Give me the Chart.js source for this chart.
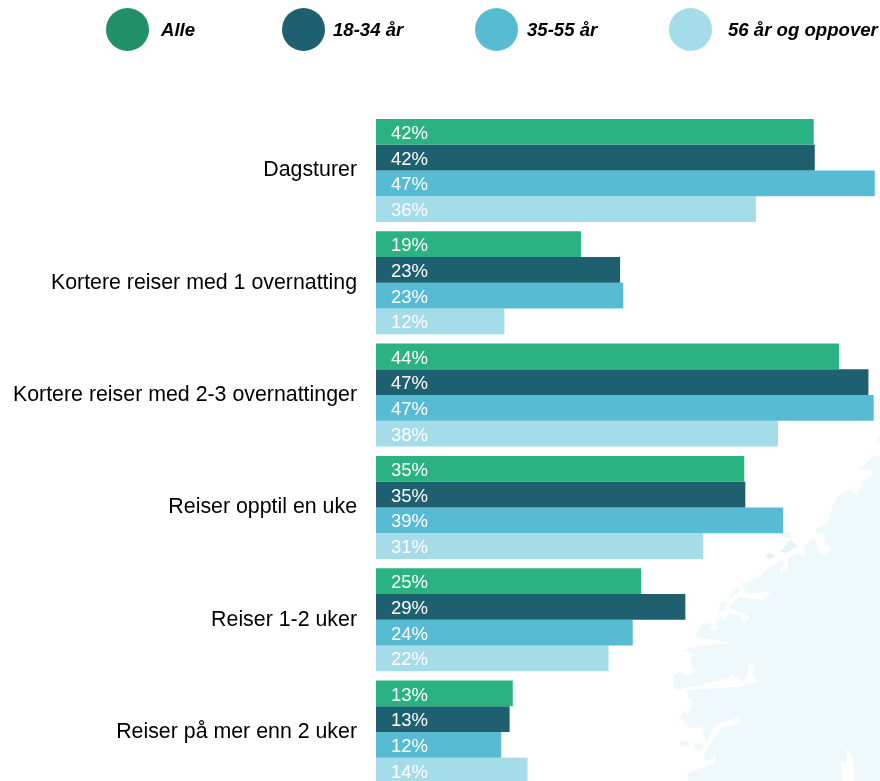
<!DOCTYPE html>
<html lang="no">
<head>
<meta charset="utf-8">
<title>Reiser</title>
<script src="https://cdn.jsdelivr.net/npm/chart.js@4/dist/chart.umd.js"></script>
<style>
    html, body { margin: 0; width: 880px; height: 781px; overflow: hidden; background: #fff; }
    #map { position: absolute; left: 640px; top: 420px; width: 240px; height: 361px; }
    #wrap { position: absolute; left: 0; top: 0; width: 880px; height: 781px; overflow: hidden; }
    #chart { display: block; }
    .legend-dot { position: absolute; top: 8px; width: 43px; height: 43px; border-radius: 50%; }
    .legend-text { position: absolute; top: 19px; font: italic bold 18.6px "Liberation Sans", Arial, sans-serif; color: #000; white-space: nowrap; }
</style>
</head>
<body>
<!-- Background map, viewBox is 3x the page pixels -->
<svg id="map" viewBox="0 0 720 1083">
    <path fill="#eff8fa" d="M720,105 L695,108 680,130 652,150 700,148 695,165 665,185 670,205 655,210 655,230 622,207 600,222 575,265 562,315 528,325 530,338 555,340 553,375 575,380 560,405 540,400 530,365 520,355 490,380 497,405 482,412 475,395 445,415 445,445 420,460 432,420 390,440 355,475 305,490 320,520 395,515 365,540 300,530 265,560 300,575 330,590 310,612 298,585 265,580 255,605 245,590 228,605 232,632 208,632 218,608 185,615 167,650 190,655 285,670 190,675 130,690 165,705 152,712 155,745 170,755 135,768 120,755 100,765 100,800 110,810 265,775 275,760 310,785 325,765 322,728 348,730 338,760 355,785 300,800 140,810 145,835 158,845 145,885 130,872 120,895 150,925 185,920 190,945 200,965 225,915 300,890 300,910 245,925 225,950 190,1010 200,1025 225,1010 225,1030 140,1060 145,1083 610,1083 603,1025 620,1030 622,990 640,1010 640,1083 720,1083 Z"/>
    <path fill="#e6f4f8" d="M420,395 L450,358 475,378 435,400 Z"/>
    <path fill="#eff8fa" d="M265,530 L295,500 300,510 275,532 Z M235,572 L240,550 258,540 255,575 Z M720,45 L712,58 714,70 720,68 Z"/>
    <ellipse cx="440" cy="345" rx="15" ry="8" fill="#eff8fa"/>
    <ellipse cx="390" cy="407" rx="13" ry="8" fill="#e6f4f8"/>
    <ellipse cx="134" cy="971" rx="15" ry="10" fill="#eff8fa"/>
    <ellipse cx="175" cy="979" rx="15" ry="10" fill="#eff8fa"/>
</svg>
<!-- Canvas is taller than the window: the last group runs past the bottom, as in the original -->
<div id="wrap"><canvas id="chart" width="880" height="820"></canvas></div>
<div id="legend"></div>

<script>
// Categories and series
const categories = [
    'Dagsturer',
    'Kortere reiser med 1 overnatting',
    'Kortere reiser med 2-3 overnattinger',
    'Reiser opptil en uke',
    'Reiser 1-2 uker',
    'Reiser på mer enn 2 uker'
];
const seriesNames = ['Alle', '18-34 år', '35-55 år', '56 år og oppover'];
const alle = [41.6, 19.48, 44.0, 35.0, 25.2, 13.0];
const young = [41.7, 23.2, 46.8, 35.1, 29.4, 12.7];
const middle = [47.4, 23.5, 47.3, 38.7, 24.4, 11.9];
const older = [36.1, 12.2, 38.2, 31.1, 22.1, 14.4];
// Labels are the printed values, the bars are a little more precise
const alleLabels = ['42%', '19%', '44%', '35%', '25%', '13%'];
const youngLabels = ['42%', '23%', '47%', '35%', '29%', '13%'];
const middleLabels = ['47%', '23%', '47%', '39%', '24%', '12%'];
const olderLabels = ['36%', '12%', '38%', '31%', '22%', '14%'];

const barColors = ['#2ab381', '#1e5f70', '#57bbd4', '#a4dcea'];
const legendColors = ['#229067', '#1e5f70', '#57bbd4', '#a4dcea'];
const legendDotX = [106, 282, 475, 669];
const legendTextX = [161, 333, 527, 728];

// Build the legend above the chart
function buildLegend() {
    const legend = document.getElementById('legend');
    seriesNames.forEach((name, i) => {
        const dot = document.createElement('div');
        dot.className = 'legend-dot';
        dot.style.left = `${legendDotX[i]}px`;
        dot.style.background = legendColors[i];
        legend.appendChild(dot);

        const text = document.createElement('div');
        text.className = 'legend-text';
        text.style.left = `${legendTextX[i]}px`;
        text.textContent = name;
        legend.appendChild(text);
    });
}

// Draw the percent text inside the start of every bar
const barLabels = {
    id: 'barLabels',
    afterDatasetsDraw(chart) {
        const ctx = chart.ctx;
        ctx.save();
        ctx.font = '18.5px "Liberation Sans", Arial, sans-serif';
        ctx.fillStyle = '#ffffff';
        ctx.textBaseline = 'middle';
        chart.data.datasets.forEach((dataset, i) => {
            chart.getDatasetMeta(i).data.forEach((bar, j) => {
                ctx.fillText(dataset.labels[j], bar.base + 15, bar.y + 2);
            });
        });
        ctx.restore();
    }
};

buildLegend();

new Chart(document.getElementById('chart').getContext('2d'), {
    type: 'bar',
    data: {
        labels: categories,
        datasets: [
            { label: seriesNames[0], data: alle, labels: alleLabels, backgroundColor: barColors[0] },
            { label: seriesNames[1], data: young, labels: youngLabels, backgroundColor: barColors[1] },
            { label: seriesNames[2], data: middle, labels: middleLabels, backgroundColor: barColors[2] },
            { label: seriesNames[3], data: older, labels: olderLabels, backgroundColor: barColors[3] }
        ]
    },
    options: {
        indexAxis: 'y',
        responsive: false,
        maintainAspectRatio: false,
        animation: false,
        layout: { padding: { top: 114.3 } },
        categoryPercentage: 0.917,
        barPercentage: 1,
        plugins: { legend: { display: false }, tooltip: { enabled: false } },
        scales: {
            x: { display: false, min: 0, max: 47.9 },
            y: {
                grid: { display: false, drawTicks: false },
                border: { display: false },
                afterFit: scale => { scale.width = 376; },
                ticks: {
                    color: '#000',
                    padding: 19,
                    font: { family: '"Liberation Sans", Arial, sans-serif', size: 21.35 }
                }
            }
        }
    },
    plugins: [barLabels]
});
</script>
</body>
</html>
